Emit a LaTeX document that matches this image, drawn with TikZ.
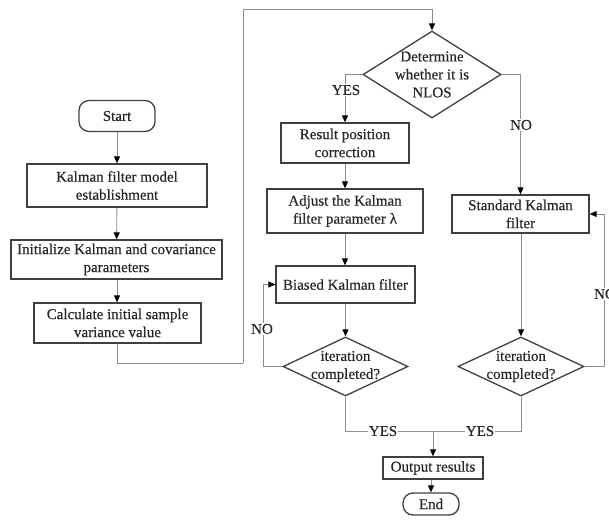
\documentclass[tikz,border=0pt]{standalone}
\usepackage{fontspec}
\setmainfont{Liberation Serif}
\newfontfamily\chartfont[FakeBold=0.4]{Liberation Serif}
\usetikzlibrary{shapes.geometric,arrows.meta}
\begin{document}
\begin{tikzpicture}[x=1pt,y=-1pt,
  txt/.style={font=\chartfont\fontsize{15}{18}\selectfont, align=center, inner sep=0pt, text=black!85},
  box/.style={draw=black!75, line width=1.3pt, inner sep=0pt, txt},
  term/.style={box, rounded corners=10pt},
  dec/.style={diamond, draw=black!75, line width=1.3pt, inner sep=0pt},
  conn/.style={draw=black!45, line width=0.9pt},
  arr/.style={conn, -{Triangle[length=7pt,width=6pt,color=black]}},
  lbl/.style={txt, fill=white, inner xsep=1pt, inner ysep=1pt}
]
\useasboundingbox (0,0) rectangle (609,527);

% left column
\node[term, minimum width=76pt, minimum height=31pt] (start) at (117,116) {Start};
\node[box, minimum width=180pt, minimum height=43pt] (b1) at (117,185.5) {Kalman filter model\\establishment};
\node[box, minimum width=211pt, minimum height=39pt] (b2) at (116.5,259.5) {Initialize Kalman and covariance\\parameters};
\node[box, minimum width=167pt, minimum height=40pt] (b3) at (117.5,323) {Calculate initial sample\\variance value};

% NLOS decision
\node[dec, minimum width=138pt, minimum height=87pt] (d1) at (432,74.5) {};
\node[txt] (d1t) at (d1) {Determine\\whether it is\\NLOS};

% biased branch
\node[box, minimum width=128pt, minimum height=40pt] (r1) at (345,143) {Result position\\correction};
\node[box, minimum width=156pt, minimum height=44pt] (a1) at (345,211) {Adjust the Kalman\\filter parameter λ};
\node[box, minimum width=139pt, minimum height=37pt] (bk) at (345.5,284.5) {Biased Kalman filter};
\node[dec, minimum width=125pt, minimum height=59pt] (it1) at (345.5,366.5) {};
\node[txt] (it1t) at (it1) {iteration\\completed?};

% standard branch
\node[box, minimum width=137pt, minimum height=38pt] (s1) at (520.5,214) {Standard Kalman\\filter};
\node[dec, minimum width=126pt, minimum height=59pt] (it2) at (521,366.5) {};
\node[txt] (it2t) at (it2) {iteration\\completed?};

% output
\node[box, minimum width=100pt, minimum height=22pt] (out) at (433,468) {Output results};
\node[term, minimum width=56pt, minimum height=22pt] (end) at (431,504) {End};

% routing points
\coordinate (t1) at (243,363);
\coordinate (t2) at (243,9);
\coordinate (l1) at (263,284.5);
\coordinate (r2) at (604,214);
\coordinate (m) at (433,431);

% connectors
\draw[arr] (start) -- (b1);
\draw[arr] (b1) -- (b2);
\draw[arr] (b2.south -| b1) -- (b3.north -| b1);
\draw[conn] (b3.south -| b1) |- (t1);
\draw[arr] (t1) -- (t2) -| (d1.north);
\draw[arr] (d1.west) -| (r1.north);
\draw[arr] (d1.east) -| (s1.north);
\draw[arr] (r1) -- (a1);
\draw[arr] (a1) -- (bk.north -| a1);
\draw[arr] (bk.south -| it1) -- (it1.north);
\draw[arr] (it1.west) -| (l1) -- (bk.west);
\draw[arr] (s1.south -| it2) -- (it2.north);
\draw[arr] (it2.east) -| (r2) -- (s1.east);
\draw[conn] (it1.south) |- (m);
\draw[conn] (it2.south) |- (m);
\draw[arr] (m) -- (out.north -| m);
\draw[arr] (out.south -| end) -- (end.north);

% branch labels
\node[lbl] (yes1) at (346,90) {YES};
\node[lbl] (no1) at (521,125) {NO};
\node[lbl] (no2) at (262,329) {NO};
\node[lbl] (no3) at (605,294) {NO};
\node[lbl] (yes2) at (383,431) {YES};
\node[lbl] (yes3) at (480,431) {YES};
\end{tikzpicture}
\end{document}
